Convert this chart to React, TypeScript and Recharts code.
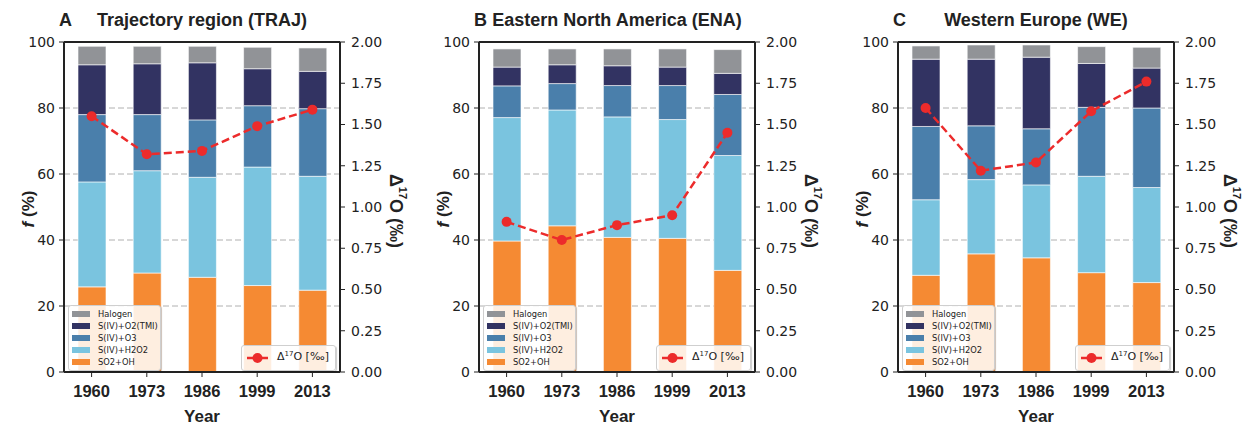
import React from "react";
import {
  ComposedChart,
  Bar,
  Line,
  XAxis,
  YAxis,
  CartesianGrid,
  ReferenceLine,
} from "recharts";

const years = ["1960", "1973", "1986", "1999", "2013"];

// sulfate formation pathway fractions (%), bottom to top of each stack
const trajOH = [25.8, 30.0, 28.7, 26.2, 24.8];
const trajH2O2 = [31.8, 31.0, 30.3, 35.9, 34.5];
const trajO3 = [20.4, 17.0, 17.4, 18.6, 20.5];
const trajTMI = [15.1, 15.4, 17.3, 11.2, 11.3];
const trajHal = [5.6, 5.3, 5.0, 6.5, 7.1];
const trajD17O = [1.55, 1.32, 1.34, 1.49, 1.59];

const enaOH = [39.7, 44.3, 40.8, 40.5, 30.8];
const enaH2O2 = [37.4, 35.1, 36.5, 36.0, 34.8];
const enaO3 = [9.6, 8.0, 9.5, 10.3, 18.5];
const enaTMI = [5.7, 5.7, 6.0, 5.6, 6.4];
const enaHal = [5.5, 4.8, 5.1, 5.5, 7.2];
const enaD17O = [0.91, 0.8, 0.89, 0.95, 1.45];

const weOH = [29.3, 35.8, 34.6, 30.1, 27.1];
const weH2O2 = [22.9, 22.5, 22.1, 29.2, 28.8];
const weO3 = [22.2, 16.3, 17.0, 20.9, 24.1];
const weTMI = [20.4, 20.2, 21.7, 13.3, 12.1];
const weHal = [4.0, 4.3, 3.7, 5.1, 6.3];
const weD17O = [1.6, 1.22, 1.27, 1.58, 1.76];

const leftTicks = [0, 20, 40, 60, 80, 100];
const rightTicks = [0, 0.25, 0.5, 0.75, 1, 1.25, 1.5, 1.75, 2];

// legend order, top to bottom
const series = [
  { key: "hal", name: "Halogen", color: "#919397" },
  { key: "tmi", name: "S(IV)+O2(TMI)", color: "#323362" },
  { key: "o3", name: "S(IV)+O3", color: "#4a7fab" },
  { key: "h2o2", name: "S(IV)+H2O2", color: "#7ac4df" },
  { key: "oh", name: "SO2+OH", color: "#f58a33" },
];
const LINE_COLOR = "#ec2b2b";

const SANS = "'Liberation Sans', Arial, sans-serif";
const DEJAVU = "'DejaVu Sans', sans-serif";
const AXIS = "#222";

const makeRows = (oh, h2o2, o3, tmi, hal, d17o) =>
  years.map((y, i) => ({
    year: y,
    oh: oh[i],
    h2o2: h2o2[i],
    o3: o3[i],
    tmi: tmi[i],
    hal: hal[i],
    d17o: d17o[i],
  }));

const panels = [
  {
    letter: "A",
    title: "Trajectory region (TRAJ)",
    plotLeft: 64,
    rows: makeRows(trajOH, trajH2O2, trajO3, trajTMI, trajHal, trajD17O),
  },
  {
    letter: "B",
    title: "Eastern North America (ENA)",
    plotLeft: 479,
    rows: makeRows(enaOH, enaH2O2, enaO3, enaTMI, enaHal, enaD17O),
  },
  {
    letter: "C",
    title: "Western Europe (WE)",
    plotLeft: 898,
    rows: makeRows(weOH, weH2O2, weO3, weTMI, weHal, weD17O),
  },
];

const YearLabel = (props: any) => {
  const vb = props.viewBox;
  return (
    <text
      x={vb.x + vb.width / 2}
      y={vb.y + 50}
      textAnchor="middle"
      fill={AXIS}
      style={{ fontFamily: SANS, fontWeight: 700, fontSize: 17 }}
    >
      Year
    </text>
  );
};

const FLabel = (props: any) => {
  const vb = props.viewBox;
  const cx = vb.x + 24;
  const cy = vb.y + vb.height / 2 + 2;
  return (
    <text
      x={cx}
      y={cy}
      textAnchor="middle"
      dominantBaseline="central"
      transform={`rotate(-90, ${cx}, ${cy})`}
      fill={AXIS}
      style={{ fontFamily: SANS, fontWeight: 700, fontSize: 17 }}
    >
      <tspan fontStyle="italic">f</tspan> (%)
    </text>
  );
};

const DeltaLabel = (props: any) => {
  const vb = props.viewBox;
  const cx = vb.x + 56;
  const cy = vb.y + vb.height / 2 + 4;
  return (
    <text
      x={cx}
      y={cy}
      textAnchor="middle"
      dominantBaseline="central"
      transform={`rotate(90, ${cx}, ${cy})`}
      fill={AXIS}
      style={{ fontFamily: SANS, fontWeight: 700, fontSize: 18 }}
    >
      Δ
      <tspan fontSize={11} dy={-7}>
        17
      </tspan>
      <tspan dy={7}>O (‰)</tspan>
    </text>
  );
};

const BarLegend = () => (
  <div
    style={{
      position: "absolute",
      left: 68,
      top: 305,
      width: 93,
      height: 66,
      boxSizing: "border-box",
      background: "rgba(255,255,255,0.85)",
      border: "1px solid #cfcfcf",
      borderRadius: 3,
      boxShadow: "1px 1px 1px rgba(0,0,0,0.2)",
    }}
  >
    {series.map((s, i) => (
      <div
        key={s.key}
        style={{
          position: "absolute",
          left: 3,
          top: 2 + i * 12.2,
          height: 11,
          display: "flex",
          alignItems: "center",
          whiteSpace: "nowrap",
        }}
      >
        <div style={{ width: 18, height: 6, background: s.color }} />
        <span
          style={{
            marginLeft: 8,
            fontFamily: DEJAVU,
            fontSize: 8.3,
            color: "#222",
          }}
        >
          {s.name}
        </span>
      </div>
    ))}
  </div>
);

const LineLegend = () => (
  <div
    style={{
      position: "absolute",
      left: 241,
      top: 345,
      width: 95,
      height: 26,
      boxSizing: "border-box",
      background: "rgba(255,255,255,0.85)",
      border: "1px solid #cfcfcf",
      borderRadius: 3,
      boxShadow: "1px 1px 1px rgba(0,0,0,0.2)",
    }}
  >
    <svg width={30} height={24} style={{ position: "absolute", left: 3, top: 0 }}>
      <line x1={2} y1={12} x2={23} y2={12} stroke={LINE_COLOR} strokeWidth={2.5} />
      <circle cx={12.5} cy={12} r={5} fill={LINE_COLOR} />
    </svg>
    <span
      style={{
        position: "absolute",
        left: 35,
        top: 4,
        fontFamily: DEJAVU,
        fontSize: 11,
        color: "#222",
        whiteSpace: "nowrap",
      }}
    >
      Δ<sup style={{ fontSize: 7, verticalAlign: 4 }}>17</sup>O [‰]
    </span>
  </div>
);

const Panel = ({ panel }: any) => (
  <div
    style={{
      position: "absolute",
      left: panel.plotLeft - 64,
      top: 0,
      width: 420,
      height: 428,
    }}
  >
    <div
      style={{
        position: "absolute",
        left: 59,
        top: 11,
        fontFamily: SANS,
        fontWeight: 700,
        fontSize: 18,
        lineHeight: "18px",
        color: "#222",
      }}
    >
      {panel.letter}
    </div>
    <div
      style={{
        position: "absolute",
        left: 64,
        top: 11,
        width: 276,
        textAlign: "center",
        whiteSpace: "nowrap",
        fontFamily: SANS,
        fontWeight: 700,
        fontSize: 18,
        lineHeight: "18px",
        color: "#222",
      }}
    >
      {panel.title}
    </div>
    <ComposedChart
      width={420}
      height={428}
      data={panel.rows}
      margin={{ top: 42, right: 20, bottom: 0, left: 4 }}
    >
      <CartesianGrid
        yAxisId="left"
        vertical={false}
        stroke="#b0b0b0"
        strokeDasharray="6 3"
      />
      <XAxis
        dataKey="year"
        height={56}
        axisLine={{ stroke: AXIS, strokeWidth: 2 }}
        tickLine={{ stroke: AXIS }}
        tickSize={5}
        tickMargin={8}
        tick={{ fill: AXIS, fontFamily: SANS, fontWeight: 700, fontSize: 16.5 }}
        label={<YearLabel />}
      />
      <YAxis
        yAxisId="left"
        width={60}
        domain={[0, 100]}
        ticks={leftTicks}
        axisLine={{ stroke: AXIS, strokeWidth: 2 }}
        tickLine={{ stroke: AXIS }}
        tickSize={5}
        tickMargin={4}
        tick={{ fill: AXIS, fontFamily: DEJAVU, fontSize: 14 }}
        label={<FLabel />}
      />
      <YAxis
        yAxisId="right"
        orientation="right"
        width={60}
        domain={[0, 2]}
        ticks={rightTicks}
        tickFormatter={(v: number) => v.toFixed(2)}
        axisLine={{ stroke: AXIS, strokeWidth: 2 }}
        tickLine={{ stroke: AXIS }}
        tickSize={5}
        tickMargin={6}
        tick={{ fill: AXIS, fontFamily: DEJAVU, fontSize: 14 }}
        label={<DeltaLabel />}
      />
      {[...series].reverse().map((s) => (
        <Bar
          key={s.key}
          yAxisId="left"
          dataKey={s.key}
          name={s.name}
          stackId="f"
          fill={s.color}
          stroke="#ffffff"
          strokeWidth={0.6}
          barSize={28}
          isAnimationActive={false}
        />
      ))}
      <ReferenceLine yAxisId="left" y={100} stroke={AXIS} strokeWidth={2} />
      <Line
        yAxisId="right"
        type="linear"
        dataKey="d17o"
        stroke={LINE_COLOR}
        strokeWidth={2.5}
        strokeDasharray="8 4"
        dot={{ r: 5, fill: LINE_COLOR, stroke: LINE_COLOR, strokeWidth: 0 }}
        activeDot={false}
        isAnimationActive={false}
      />
    </ComposedChart>
    <BarLegend />
    <LineLegend />
  </div>
);

export default function App() {
  return (
    <div
      style={{
        position: "absolute",
        left: 0,
        top: 0,
        width: 1242,
        height: 428,
        overflow: "hidden",
        background: "#fff",
      }}
    >
      {panels.map((p) => (
        <Panel key={p.letter} panel={p} />
      ))}
    </div>
  );
}
